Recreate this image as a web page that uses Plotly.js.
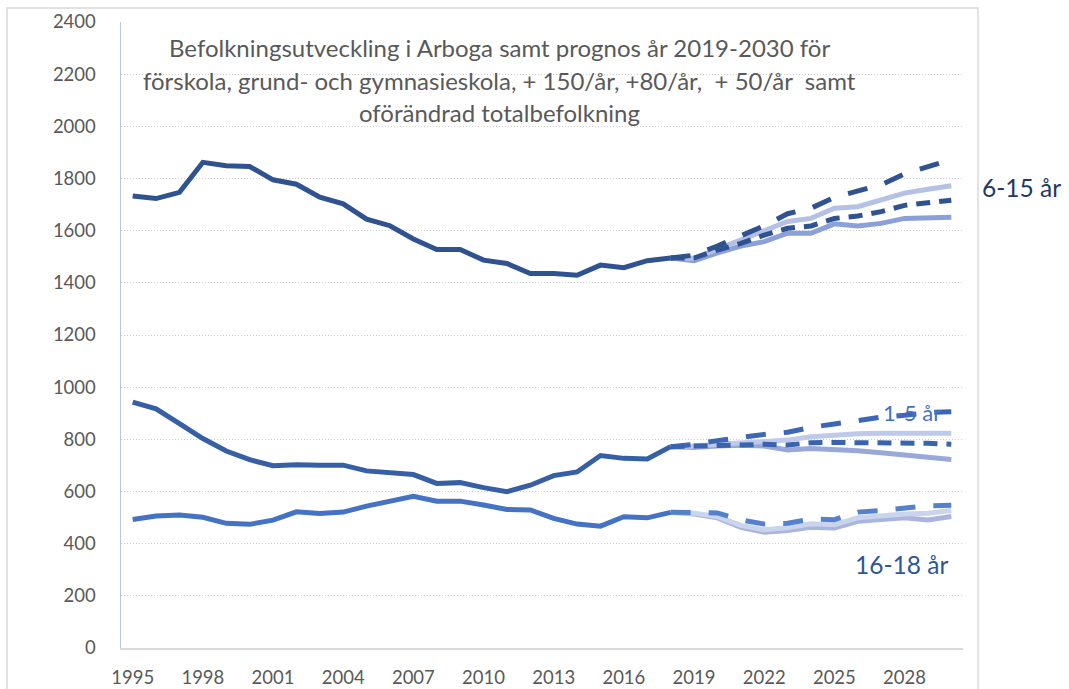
<!DOCTYPE html>
<html>
<head>
<meta charset="utf-8">
<script src="https://cdn.plot.ly/plotly-3.0.1.min.js"></script>
<style>html,body{margin:0;padding:0;background:#fff;}#chart{width:1069px;height:689px;}</style>
</head>
<body>
<div id="chart"></div>
<script>
// ---- data ----
const yearsHist = [1995,1996,1997,1998,1999,2000,2001,2002,2003,2004,2005,2006,2007,2008,2009,2010,2011,2012,2013,2014,2015,2016,2017,2018];
const yearsFc = [2018,2019,2020,2021,2022,2023,2024,2025,2026,2027,2028,2029,2030];
const xTicks = [1995,1998,2001,2004,2007,2010,2013,2016,2019,2022,2025,2028];

const age6to15Hist = [1733,1723,1747,1862,1849,1846,1795,1778,1728,1703,1644,1619,1568,1528,1528,1487,1474,1436,1436,1429,1468,1458,1485,1495];
const age6to15Plus150 = [1495,1506,1541,1579,1619,1665,1686,1728,1750,1776,1818,1844,1872];
const age6to15Plus80 = [1495,1494,1529,1564,1600,1635,1647,1686,1692,1718,1744,1759,1772];
const age6to15Plus50 = [1495,1495,1526,1551,1583,1609,1618,1647,1656,1673,1697,1708,1717];
const age6to15Same = [1495,1485,1515,1541,1558,1590,1590,1626,1618,1628,1647,1651,1651];

const age1to5Hist = [943,917,860,803,755,722,699,703,701,701,679,673,665,631,634,615,599,624,661,675,738,727,725,772];
const age1to5Plus150 = [772,781,795,808,819,827,846,859,872,885,892,903,906];
const age1to5Plus80 = [772,774,781,787,791,797,810,817,821,823,823,823,823];
const age1to5Plus50 = [772,772,776,778,781,778,787,788,788,788,787,785,781];
const age1to5Same = [772,769,774,777,774,759,765,762,756,749,740,733,723];

const age16to18Hist = [493,506,510,501,478,474,490,522,516,521,544,563,582,563,563,548,531,529,497,475,467,503,499,520];
const age16to18Plus150 = [520,520,518,491,475,478,494,492,521,527,537,545,547];
const age16to18Plus80 = [520,517,504,470,453,461,476,473,499,508,514,517,527];
const age16to18Same = [520,514,499,463,444,450,463,460,486,491,499,491,504];

const titleLines = ["Befolkningsutveckling i Arboga samt prognos år 2019-2030 för",
  "förskola, grund- och gymnasieskola, + 150/år, +80/år,  + 50/år  samt",
  "oförändrad totalbefolkning"];

// ---- styles ----
const W = 5;
const LONG = "20px,18px";
const SHORT = "14px,9px";
function tr(x, y, color, dash, name) {
  return {x: x, y: y, type: 'scatter', mode: 'lines', name: name, showlegend: false, hoverinfo: 'skip',
    line: {color: color, width: W, dash: dash || 'solid', shape: 'linear'}};
}

const data = [
  // 16-18
  tr(yearsFc, age16to18Same, '#a7b5df', null, '16-18 oförändrad'),
  tr(yearsFc, age16to18Plus80, '#cbd4ed', null, '16-18 +80'),
  tr(yearsFc, age16to18Plus150, '#5580cc', LONG, '16-18 +150'),
  tr(yearsHist, age16to18Hist, '#4472c4', null, '16-18 år'),
  // 1-5
  tr(yearsFc, age1to5Same, '#98a9d9', null, '1-5 oförändrad'),
  tr(yearsFc, age1to5Plus80, '#bfcaea', null, '1-5 +80'),
  tr(yearsFc, age1to5Plus150, '#3d67b5', LONG, '1-5 +150'),
  tr(yearsFc, age1to5Plus50, '#3a63ae', SHORT, '1-5 +50'),
  tr(yearsHist, age1to5Hist, '#365fa6', null, '1-5 år'),
  // 6-15
  tr(yearsFc, age6to15Same, '#8aa0d6', null, '6-15 oförändrad'),
  tr(yearsFc, age6to15Plus80, '#b4c1e4', null, '6-15 +80'),
  tr(yearsFc, age6to15Plus150, '#2f5290', LONG, '6-15 +150'),
  tr(yearsFc, age6to15Plus50, '#2f5290', SHORT, '6-15 +50'),
  tr(yearsHist, age6to15Hist, '#2f5290', null, '6-15 år')
];

const FONT = 'Lato, "Open Sans", sans-serif';
const titleAnn = titleLines.map((t, i) => ({
  text: t, xref: 'paper', yref: 'paper', x: 0.45, y: [0.9585, 0.9073, 0.8556][i],
  xanchor: 'center', yanchor: 'middle', showarrow: false,
  font: {family: FONT, size: 24, color: '#595959'}
}));

const layout = {
  width: 1069, height: 689,
  margin: {l: 121, r: 106, t: 22, b: 41, pad: 0},
  paper_bgcolor: '#ffffff', plot_bgcolor: '#ffffff',
  font: {family: FONT, color: '#595959'},
  showlegend: false,
  xaxis: {
    range: [1994.5, 2030.5], tickmode: 'array', tickvals: xTicks, ticktext: xTicks.map(String),
    showgrid: false, zeroline: false, showline: true, linecolor: '#d9d9d9', linewidth: 2,
    ticks: '', tickfont: {family: FONT, size: 18.5, color: '#595959'}, ticklabelstandoff: 12
  },
  yaxis: {
    range: [0, 2400], dtick: 200, tick0: 0,
    showgrid: true, gridcolor: '#d0d0d0', gridwidth: 1, griddash: '1px,2px',
    zeroline: false, showline: true, linecolor: '#b4c7e7', linewidth: 1.5,
    ticks: '', tickfont: {family: FONT, size: 18.5, color: '#595959'}, ticklabelstandoff: 20
  },
  shapes: [
    {type: 'rect', xref: 'paper', yref: 'paper', x0: -0.1354, x1: 1.0178, y0: -0.09, y1: 1.0224,
     line: {color: '#d9d9d9', width: 1.5}, fillcolor: 'rgba(0,0,0,0)', layer: 'below'},
    {type: 'rect', xref: 'paper', yref: 'paper', x0: 0.008, x1: 0.886, y0: 0.84, y1: 0.975,
     line: {width: 0}, fillcolor: '#ffffff', layer: 'between'}
  ],
  annotations: titleAnn.concat([
    {text: '6-15 år', xref: 'paper', yref: 'paper', x: 1.070, y: 0.7364, xanchor: 'center', yanchor: 'middle',
     showarrow: false, font: {family: FONT, size: 24.5, color: '#1f3864'}},
    {text: '1-5 år', xref: 'paper', yref: 'paper', x: 0.9394, y: 0.3754, xanchor: 'center', yanchor: 'middle',
     showarrow: false, font: {family: FONT, size: 22, color: '#4472c4'}},
    {text: '16-18 år', xref: 'paper', yref: 'paper', x: 0.9264, y: 0.1326, xanchor: 'center', yanchor: 'middle',
     showarrow: false, font: {family: FONT, size: 24.5, color: '#2f5597'}}
  ])
};

Plotly.newPlot('chart', data, layout, {staticPlot: true, displayModeBar: false});
</script>
</body>
</html>
